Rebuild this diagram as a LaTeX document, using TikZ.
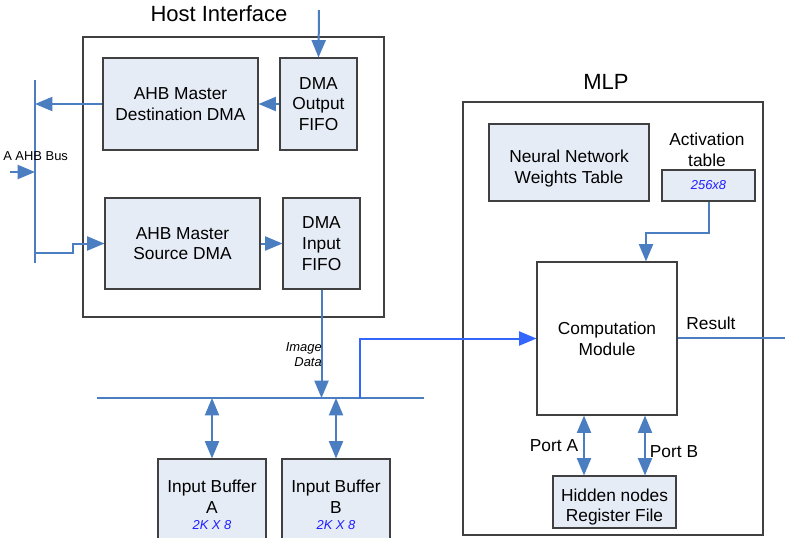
\documentclass[tikz,border=0pt]{standalone}
\usepackage{fontspec}
\setmainfont{Liberation Sans}
\usepackage{xcolor}
\usepackage{tikz}
\usetikzlibrary{calc}
\usetikzlibrary{arrows.meta}
\definecolor{busblue}{RGB}{74,126,193}
\definecolor{pathblue}{RGB}{51,102,255}
\definecolor{boxfill}{RGB}{230,236,246}
\definecolor{edgegray}{RGB}{64,64,64}
\definecolor{sizeblue}{RGB}{30,30,255}
\newcommand{\sizetxt}[1]{{\fontsize{9.7}{11.5}\selectfont\itshape\color{sizeblue}#1}}
\tikzset{
    blk/.style={draw=edgegray, line width=0.8pt, fill=boxfill, align=center, inner sep=2pt,
        font=\fontsize{13}{15.5}\selectfont},
    frame/.style={draw=edgegray, line width=0.8pt},
    arr/.style={draw=busblue, line width=1.5pt, -{Triangle[length=13pt,width=10.5pt]}},
    darr/.style={draw=busblue, line width=1.5pt, {Triangle[length=13pt,width=10.5pt]}-{Triangle[length=13pt,width=10.5pt]}},
    bus/.style={draw=busblue, line width=1.5pt},
    title/.style={font=\fontsize{16.5}{19}\selectfont},
    lbl/.style={font=\fontsize{13}{15.5}\selectfont, align=center, inner sep=0pt},
    small/.style={font=\fontsize{9.7}{11.5}\selectfont, inner sep=0pt}
}
\begin{document}
\begin{tikzpicture}[x=0.75pt, y=-0.75pt]
    \clip (0,0) rectangle (785,537);
    \fill[white] (0,0) rectangle (785,537);
    %HOST INTERFACE
    \draw[frame] (83,37) rectangle (384,317);
    \node[title] (hosttitle) at (219,14) {Host Interface};
    \node[blk, minimum width=116.25pt, minimum height=69pt] (dest) at (180.5,104) {AHB Master\\Destination DMA};
    \node[blk, minimum width=57.75pt, minimum height=69pt] (outfifo) at (318.5,104) {DMA\\Output\\FIFO};
    \node[blk, minimum width=116.25pt, minimum height=68.25pt] (src) at (182.5,243.5) {AHB Master\\Source DMA};
    \node[blk, minimum width=57.75pt, minimum height=68.25pt] (infifo) at (321.5,243.5) {DMA\\Input\\FIFO};
    %AHB BUS
    \coordinate (ahbtop) at (35,80);
    \coordinate (ahbbot) at (35,263);
    \coordinate (ahbin) at (10,172);
    \coordinate (hostin) at (319,10);
    \draw[bus] (ahbtop) -- (ahbbot);
    \node[small, anchor=west] (ahblbl) at (3,156) {A AHB Bus};
    \draw[arr] (ahbin) -- (ahbin -| ahbtop);
    \draw[arr] (hostin) -- (outfifo.north);
    \draw[arr] (outfifo.west) -- (dest.east);
    \draw[arr] (dest.west) -- (dest.west -| ahbtop);
    \draw[arr] (ahbtop |- 0,253) -- (73,253) |- (src.west);
    \draw[arr] (src.east) -- (infifo.west);
    %IMAGE BUS
    \coordinate (imgL) at (97,398);
    \coordinate (imgR) at (424,398);
    \coordinate (tap) at (360,398);
    \draw[bus] (imgL) -- (imgR);
    \draw[arr] (infifo.south) -- (infifo.south |- imgL);
    \node[small, font=\fontsize{9.7}{11.2}\selectfont\itshape, align=right, anchor=east] (imglbl) at (322,355) {Image\\Data};
    %INPUT BUFFERS
    \node[blk, minimum width=81pt, minimum height=69pt] (bufa) at (212,505) {Input Buffer\\A\\[-3pt]\sizetxt{2K X 8}};
    \node[blk, minimum width=81pt, minimum height=69pt] (bufb) at (336,505) {Input Buffer\\B\\[-3pt]\sizetxt{2K X 8}};
    \draw[darr] (bufa.north |- imgL) -- (bufa.north);
    \draw[darr] (bufb.north |- imgL) -- (bufb.north);
    %MLP
    \draw[frame] (463,102) rectangle (763,535);
    \node[title] (mlptitle) at (606,82) {MLP};
    \node[blk, minimum width=120pt, minimum height=57.75pt,
        label={[lbl, yshift=-4.5pt]center:{Neural Network\\Weights Table}}] (nnw) at (569,162.5) {};
    \node[lbl] (actlbl) at (707,150) {Activation\\table};
    \node[blk, minimum width=69.75pt, minimum height=23.25pt] (act) at (708.5,185.5) {\sizetxt{256x8}};
    \node[blk, fill=white, minimum width=105pt, minimum height=114.75pt] (comp) at (607,338.5) {Computation\\Module};
    \node[blk, minimum width=92.25pt, minimum height=39pt,
        label={[lbl, yshift=-3.75pt]center:{Hidden nodes\\Register File}}] (hidden) at (614.5,502) {};
    \draw[arr] (act.south) -- ++(0,31) -| ([xshift=29.25pt]comp.north);
    \draw[arr, draw=pathblue] (tap) |- (comp.west);
    \coordinate (resout) at (785,338);
    \draw[bus] (comp.east |- resout) -- (resout);
    \node[lbl] (reslbl) at (711,323) {Result};
    \draw[darr] ([xshift=-17.25pt]comp.south) -- ([xshift=-17.25pt]comp.south |- hidden.north);
    \draw[darr] ([xshift=28.5pt]comp.south) -- ([xshift=28.5pt]comp.south |- hidden.north);
    \node[lbl] (porta) at (554,446) {Port A};
    \node[lbl] (portb) at (674,452) {Port B};
\end{tikzpicture}
\end{document}
